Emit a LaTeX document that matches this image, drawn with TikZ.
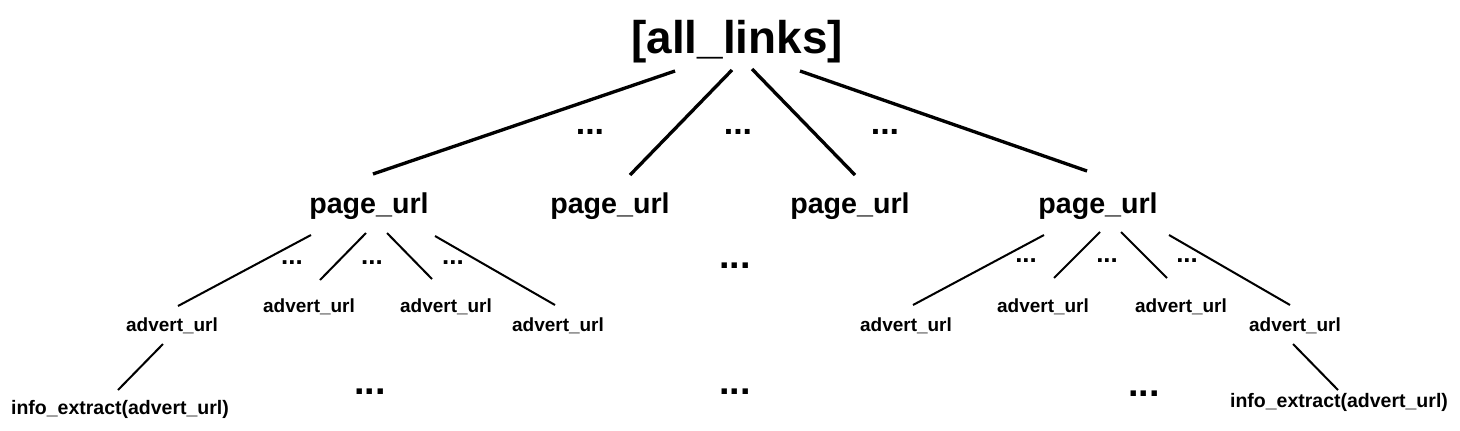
\documentclass[tikz,border=0pt]{standalone}
\usepackage{fontspec}
\setsansfont{Liberation Sans}
\usetikzlibrary{calc}
\newcommand{\bsize}[1]{\sffamily\bfseries\fontsize{#1}{#1}\selectfont}
\tikzset{
  every picture/.style={font=\sffamily\bfseries},
  lvl/.style={inner sep=0pt, anchor=base},
  rootlabel/.style={lvl, font=\bsize{26.1pt}},
  pagelabel/.style={lvl, font=\bsize{16.3pt}},
  advlabel/.style={lvl, font=\bsize{10.8pt}},
  infolabel/.style={lvl, font=\bsize{11.1pt}},
  more/.style={lvl, font=\bsize{#1}},
  more/.default=19.3pt,
  trunk/.style={line width=1.9pt},
  twig/.style={line width=1.15pt},
}

\begin{document}
\begin{tikzpicture}[x=0.02cm, y=-0.02cm]
  \useasboundingbox (0,0) rectangle (1460,430);
  % root and the page urls
  \node[rootlabel] (root) at (737,53) {[all\_links]};
  \node[pagelabel] (pg1) at (369,213) {page\_url};
  \node[pagelabel] (pg2) at (610,213) {page\_url};
  \node[pagelabel] (pg3) at (850,213) {page\_url};
  \node[pagelabel] (pg4) at (1098,213) {page\_url};
  \draw[trunk] ($(root.base)+(-62,18)$) -- ($(pg1.base)+(4,-39)$);
  \draw[trunk] ($(root.base)+(-5,17)$) -- ($(pg2.base)+(20,-38)$);
  \draw[trunk] ($(root.base)+(15,16)$) -- ($(pg3.base)+(5,-38)$);
  \draw[trunk] ($(root.base)+(63,18)$) -- ($(pg4.base)+(-11,-42)$);
  \foreach \x/\n in {590/1, 738/2, 885/3}
    \node[more] (top\n) at (\x,134.5) {...};

  % advert urls under the first page
  \node[advlabel] (ad1) at (172,331) {advert\_url};
  \node[advlabel] (ad2) at (309,312) {advert\_url};
  \node[advlabel] (ad3) at (446,312) {advert\_url};
  \node[advlabel] (ad4) at (558,331) {advert\_url};
  \draw[twig] ($(pg1.base)+(-58,22)$) -- ($(ad1.base)+(6,-25)$);
  \draw[twig] ($(pg1.base)+(-3,20)$) -- ($(ad2.base)+(11,-32)$);
  \draw[twig] ($(pg1.base)+(18,20)$) -- ($(ad3.base)+(-14,-33)$);
  \draw[twig] ($(pg1.base)+(66,23)$) -- ($(ad4.base)+(-3,-26)$);
  \foreach \x/\n in {292/1, 372/2, 453/3}
    \node[more=14.7pt] (lft\n) at (\x,264) {...};

  % advert urls under the last page
  \node[advlabel] (ad5) at (906,331) {advert\_url};
  \node[advlabel] (ad6) at (1043,312) {advert\_url};
  \node[advlabel] (ad7) at (1181,312) {advert\_url};
  \node[advlabel] (ad8) at (1295,331) {advert\_url};
  \draw[twig] ($(pg4.base)+(-54,22)$) -- ($(ad5.base)+(7,-26)$);
  \draw[twig] ($(pg4.base)+(2,19)$) -- ($(ad6.base)+(11,-34)$);
  \draw[twig] ($(pg4.base)+(23,19)$) -- ($(ad7.base)+(-14,-34)$);
  \draw[twig] ($(pg4.base)+(71,22)$) -- ($(ad8.base)+(-5,-26)$);
  \foreach \x/\n in {1026/1, 1107/2, 1187/3}
    \node[more=14.7pt] (rgt\n) at (\x,262) {...};

  % extraction leaves
  \node[infolabel] (info1) at (120,414) {info\_extract(advert\_url)};
  \node[infolabel] (info2) at (1339,407.5) {info\_extract(advert\_url)};
  \draw[twig] ($(ad1.base)+(-9,13)$) -- ($(info1.base)+(-2,-24)$);
  \draw[twig] ($(ad8.base)+(-2,13)$) -- ($(info2.base)+(-1,-17.5)$);

  \node[more=21.5pt] (mid) at (735,268) {...};
  \foreach \x/\y/\n in {370/394/1, 735/394/2, 1144/396/3}
    \node[more=21.5pt] (low\n) at (\x,\y) {...};
\end{tikzpicture}
\end{document}
